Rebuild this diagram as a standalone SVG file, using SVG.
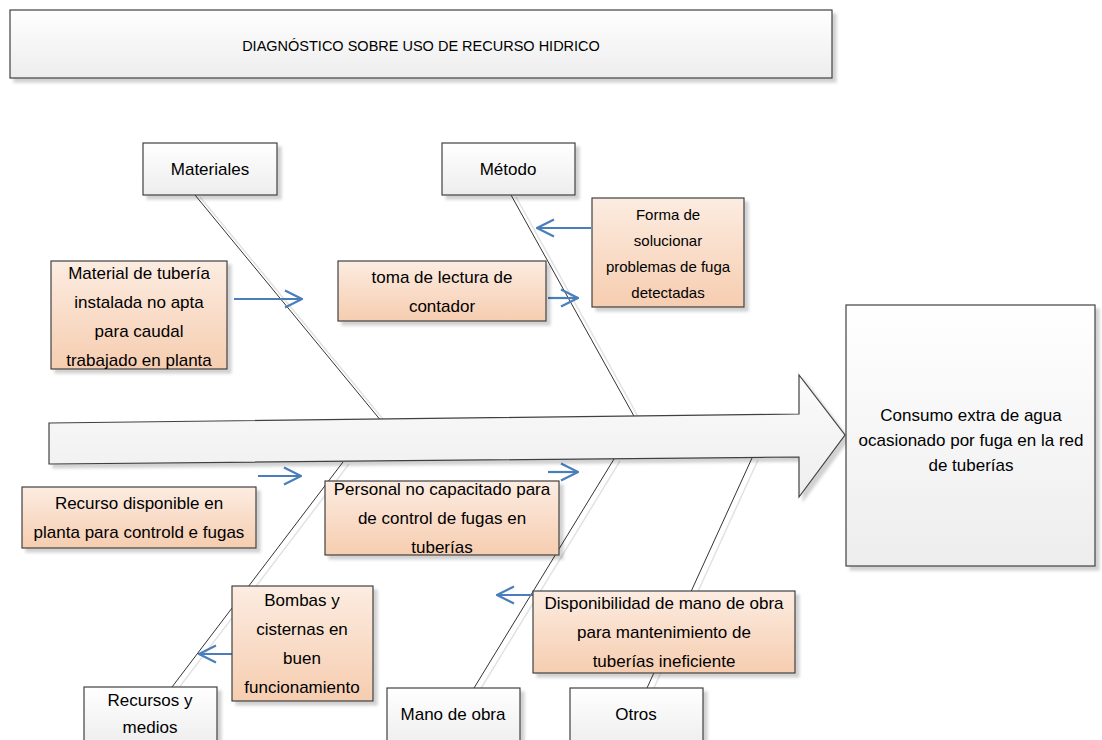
<svg xmlns="http://www.w3.org/2000/svg" width="1102" height="740" viewBox="0 0 1102 740">
<style>
  text { font-family: "Liberation Sans", Arial, sans-serif; font-size: 17px; fill: #000; text-anchor: middle; }
  .node { fill: url(#gWhite); stroke: #404040; stroke-width: 1.2; filter: url(#sh); }
  .cause { fill: url(#gPeach); stroke: #404040; stroke-width: 1.2; filter: url(#sh); }
  .bone { stroke: #333; stroke-width: 1; fill: none; }
  .boneSh { stroke: #e2e2e2; stroke-width: 1.5; fill: none; }
  .blue { stroke: #4a7ebb; stroke-width: 2.2; fill: none; marker-end: url(#openArrow); }
</style>
<defs>
  <linearGradient id="gWhite" x1="0" y1="0" x2="0" y2="1">
    <stop offset="0" stop-color="#ffffff"/>
    <stop offset="1" stop-color="#ededed"/>
  </linearGradient>
  <linearGradient id="gPeach" x1="0" y1="0" x2="0" y2="1">
    <stop offset="0" stop-color="#fcece1"/>
    <stop offset="1" stop-color="#f6cdb0"/>
  </linearGradient>
  <linearGradient id="gArrow" x1="0" y1="0" x2="0" y2="1">
    <stop offset="0" stop-color="#fbfbfb"/>
    <stop offset="1" stop-color="#eeeeee"/>
  </linearGradient>
  <filter id="sh" x="-10%" y="-10%" width="130%" height="140%">
    <feDropShadow dx="4" dy="4" stdDeviation="1.5" flood-color="#000" flood-opacity="0.18"/>
  </filter>
  <marker id="openArrow" viewBox="0 0 20 20" refX="19" refY="10" markerWidth="20" markerHeight="20" markerUnits="userSpaceOnUse" orient="auto">
    <path d="M2,1.5 L19,10 L2,18.5" fill="none" stroke="#4a7ebb" stroke-width="2.2"/>
  </marker>
</defs>

<g id="title">
  <rect class="node" x="10" y="10" width="822" height="68"/>
  <text x="421" y="51" style="font-size:14.5px">DIAGNÓSTICO SOBRE USO DE RECURSO HIDRICO</text>
</g>

<g id="connectors">
  <line class="boneSh" x1="200" y1="197" x2="387" y2="424"/>
  <line class="boneSh" x1="516" y1="197" x2="640" y2="420"/>
  <line class="boneSh" x1="349" y1="464" x2="178" y2="689"/>
  <line class="boneSh" x1="620" y1="461" x2="480" y2="690"/>
  <line class="boneSh" x1="758" y1="460" x2="653" y2="690"/>
  <line class="bone" x1="195" y1="195" x2="382" y2="422"/>
  <line class="bone" x1="511" y1="195" x2="635" y2="418"/>
  <line class="bone" x1="343" y1="462" x2="172" y2="687"/>
  <line class="bone" x1="614" y1="459" x2="474" y2="688"/>
  <line class="bone" x1="752" y1="458" x2="647" y2="688"/>
  <line class="blue" x1="234" y1="299" x2="302" y2="299"/>
  <line class="blue" x1="548" y1="298" x2="578" y2="298"/>
  <line class="blue" x1="591" y1="228" x2="537" y2="228"/>
  <line class="blue" x1="258" y1="476" x2="301" y2="476"/>
  <line class="blue" x1="548" y1="472" x2="578" y2="472"/>
  <line class="blue" x1="234" y1="654" x2="199" y2="654"/>
  <line class="blue" x1="533" y1="595" x2="497" y2="595"/>
</g>

<g id="spine">
  <path d="M49,423 L799,414 L799,375 L845,435 L799,497 L799,457 L49,464 Z" fill="url(#gArrow)" stroke="#404040" stroke-width="1.2" filter="url(#sh)"/>
</g>

<g id="effect">
  <rect class="node" x="846" y="305" width="249" height="261"/>
  <text x="971" y="421">Consumo extra de agua<tspan x="971" dy="25">ocasionado por fuga en la red</tspan><tspan x="971" dy="25">de tuberías</tspan></text>
</g>

<g id="materiales">
  <rect class="node" x="143" y="143" width="134" height="52"/>
  <text x="210" y="175">Materiales</text>
</g>
<g id="metodo">
  <rect class="node" x="442" y="143" width="133" height="52"/>
  <text x="508" y="175">Método</text>
</g>
<g id="recursos">
  <rect class="node" x="84" y="687" width="133" height="60"/>
  <text x="150" y="706">Recursos y<tspan x="150" dy="27">medios</tspan></text>
</g>
<g id="manodeobra">
  <rect class="node" x="387" y="688" width="133" height="60"/>
  <text x="453" y="720">Mano de obra</text>
</g>
<g id="otros">
  <rect class="node" x="570" y="688" width="133" height="60"/>
  <text x="636" y="720">Otros</text>
</g>

<g id="cause-material">
  <rect class="cause" x="51" y="261" width="176" height="108"/>
  <text x="139" y="279">Material de tubería<tspan x="139" dy="29">instalada no apta</tspan><tspan x="139" dy="29">para caudal</tspan><tspan x="139" dy="29">trabajado en planta</tspan></text>
</g>
<g id="cause-toma">
  <rect class="cause" x="338" y="261" width="208" height="60"/>
  <text x="442" y="283">toma de lectura de<tspan x="442" dy="29">contador</tspan></text>
</g>
<g id="cause-forma">
  <rect class="cause" x="592" y="198" width="152" height="109"/>
  <text x="668" y="220" style="font-size:15px">Forma de<tspan x="668" dy="26">solucionar</tspan><tspan x="668" dy="26">problemas de fuga</tspan><tspan x="668" dy="26">detectadas</tspan></text>
</g>
<g id="cause-recurso">
  <rect class="cause" x="22" y="487" width="234" height="61"/>
  <text x="139" y="509">Recurso disponible en<tspan x="139" dy="29">planta para controld e fugas</tspan></text>
</g>
<g id="cause-personal">
  <rect class="cause" x="325" y="481" width="234" height="74"/>
  <text x="442" y="495">Personal no capacitado para<tspan x="442" dy="29">de control de fugas en</tspan><tspan x="442" dy="29">tuberías</tspan></text>
</g>
<g id="cause-bombas">
  <rect class="cause" x="232" y="586" width="141" height="115"/>
  <text x="302" y="606">Bombas y<tspan x="302" dy="29">cisternas en</tspan><tspan x="302" dy="29">buen</tspan><tspan x="302" dy="29">funcionamiento</tspan></text>
</g>
<g id="cause-disponibilidad">
  <rect class="cause" x="533" y="591" width="262" height="82"/>
  <text x="664" y="609">Disponibilidad de mano de obra<tspan x="664" dy="29">para mantenimiento de</tspan><tspan x="664" dy="29">tuberías ineficiente</tspan></text>
</g>
</svg>
